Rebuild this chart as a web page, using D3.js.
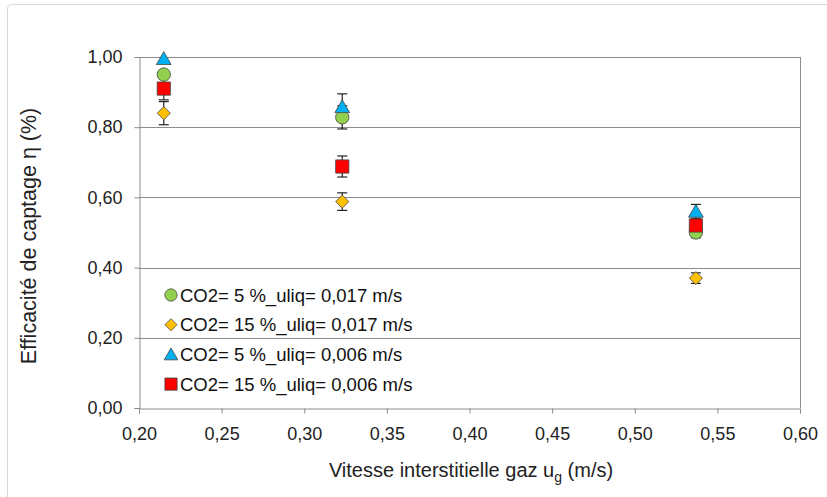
<!DOCTYPE html>
<html><head><meta charset="utf-8">
<script src="https://cdn.jsdelivr.net/npm/d3@7"></script>
<style>body{margin:0;background:#fff;}svg{display:block;font-family:"Liberation Sans",Arial,sans-serif;}</style>
</head><body><svg id="c" width="827" height="497"></svg>
<script>
const xValues = [0.215, 0.323, 0.537];
const seriesNames = ["CO2= 5 %_uliq= 0,017 m/s","CO2= 15 %_uliq= 0,017 m/s","CO2= 5 %_uliq= 0,006 m/s","CO2= 15 %_uliq= 0,006 m/s"];
const circleVals = [0.95, 0.828, 0.50];
const circleErr = [0.0, 0.033, 0.015];
const diamondVals = [0.84, 0.588, 0.37];
const diamondErr = [0.033, 0.025, 0.015];
const triangleVals = [0.995, 0.858, 0.56];
const triangleErr = [0.0, 0.037, 0.02];
const squareVals = [0.91, 0.688, 0.52];
const squareErr = [0.032, 0.03, 0.0];
const xTicks = [0.20,0.25,0.30,0.35,0.40,0.45,0.50,0.55,0.60];
const yTicks = [0,0.2,0.4,0.6,0.8,1.0];

const svg = d3.select("#c");
const L=139,R=800,T=57,B=408;
const x = d3.scaleLinear().domain([0.2,0.6]).range([L,R]);
const y = d3.scaleLinear().domain([0,1]).range([B,T]);
const fmt = d=>d3.format(".2f")(d).replace(".",",");

svg.append("rect").attr("x",7.5).attr("y",4.5).attr("width",830).attr("height",500).attr("rx",4)
  .attr("fill","none").attr("stroke","#d9d9d9");

svg.append("g").selectAll("line").data(yTicks.filter(d=>d>0)).join("line")
  .attr("x1",L).attr("x2",R).attr("y1",d=>Math.round(y(d))+0.5).attr("y2",d=>Math.round(y(d))+0.5)
  .attr("stroke","#8c8c8c").attr("stroke-width",1);
svg.append("line").attr("x1",R+0.5).attr("x2",R+0.5).attr("y1",T).attr("y2",B).attr("stroke","#8c8c8c");

const yAxis = d3.axisLeft(y).tickValues(yTicks).tickFormat(fmt).tickSize(5).tickPadding(12);
const gy = svg.append("g").attr("transform",`translate(${L+0.5},0)`).call(yAxis);
const xAxis = d3.axisBottom(x).tickValues(xTicks).tickFormat(fmt).tickSize(5).tickPadding(14);
const gx = svg.append("g").attr("transform",`translate(0,${B+0.5})`).call(xAxis);
[gx,gy].forEach(g=>{
  g.select(".domain").attr("stroke","#8c8c8c");
  g.selectAll(".tick line").attr("stroke","#8c8c8c");
  g.selectAll("text").attr("font-size",18).attr("fill","#222").attr("font-family","Liberation Sans, Arial, sans-serif");
});

svg.append("text").attr("x",471).attr("y",477).attr("text-anchor","middle").attr("font-size",20).attr("fill","#222")
  .html('Vitesse interstitielle gaz u<tspan dy="5" font-size="14">g</tspan><tspan dy="-5"> (m/s)</tspan>');
svg.append("text").attr("transform","translate(36,236) rotate(-90)").attr("text-anchor","middle")
  .attr("font-size",21.5).attr("fill","#222").text("Efficacité de captage η (%)");

const diamond = { draw(ctx, size){ const r=Math.sqrt(size)/1.6; ctx.moveTo(0,-r); ctx.lineTo(r,0); ctx.lineTo(0,r); ctx.lineTo(-r,0); ctx.closePath(); } };
const series = [
  {vals:circleVals, err:circleErr, color:"#92D050", shape:d3.symbolCircle, size:140, dy:0},
  {vals:diamondVals, err:diamondErr, color:"#FFC000", shape:diamond, size:110, dy:0},
  {vals:triangleVals, err:triangleErr, color:"#00B0F0", shape:d3.symbolTriangle, size:95, dy:1.5},
  {vals:squareVals, err:squareErr, color:"#FF0000", shape:d3.symbolSquare, size:175, dy:0},
];
const draw = [1,0,3,2];
draw.forEach(i=>{
  const s = series[i];
  const g = svg.append("g").attr("stroke","#222").attr("stroke-width",1.2);
  xValues.forEach((xv,j)=>{
    if(!s.err[j]) return;
    const cx=x(xv), y1=y(s.vals[j]+s.err[j]), y2=y(s.vals[j]-s.err[j]);
    g.append("line").attr("x1",cx).attr("x2",cx).attr("y1",y1).attr("y2",y2);
    g.append("line").attr("x1",cx-5).attr("x2",cx+5).attr("y1",y1).attr("y2",y1);
    g.append("line").attr("x1",cx-5).attr("x2",cx+5).attr("y1",y2).attr("y2",y2);
  });
});
draw.forEach(i=>{
  const s=series[i];
  svg.append("g").selectAll("path").data(xValues.map((xv,j)=>[xv,s.vals[j]])).join("path")
    .attr("d",d3.symbol().type(s.shape).size(s.size))
    .attr("transform",d=>`translate(${x(d[0])},${y(d[1]) + s.dy})`)
    .attr("fill",s.color).attr("stroke","#444").attr("stroke-width",0.8);
});

const lg = svg.append("g");
seriesNames.forEach((name,i)=>{
  const s=series[i], ly=295+i*29.7;
  lg.append("path").attr("d",d3.symbol().type(s.shape).size(s.size*0.85))
    .attr("transform",`translate(171,${ly + s.dy})`)
    .attr("fill",s.color).attr("stroke","#444").attr("stroke-width",0.8);
  lg.append("text").attr("x",180).attr("y",ly+6.5).attr("font-size",18.5).attr("fill","#111").text(name);
});
</script></body></html>
